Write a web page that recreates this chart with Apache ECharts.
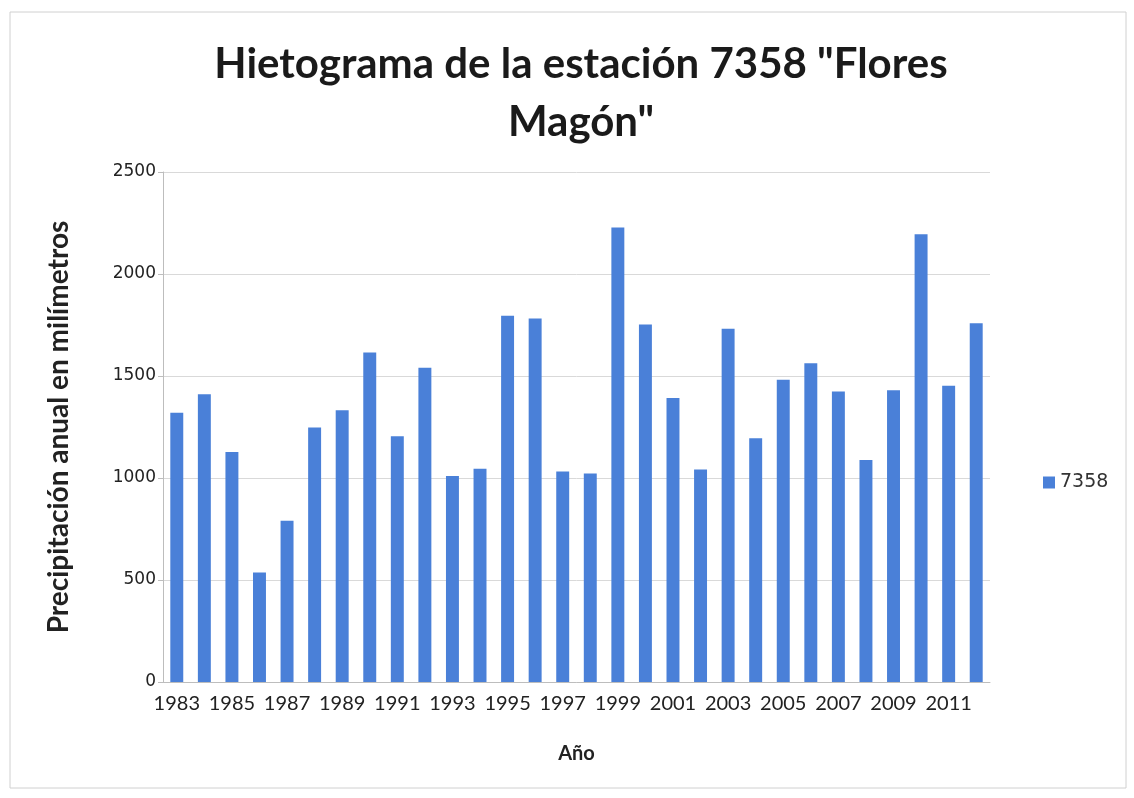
<!DOCTYPE html>
<html><head><meta charset="utf-8">
<script src="https://cdn.jsdelivr.net/npm/echarts@6/dist/echarts.min.js"></script>
<style>html,body{margin:0;padding:0;background:#fff}#c{width:1134px;height:798px}</style>
</head><body><div id="c"></div>
<script>
const years = ['1983','1984','1985','1986','1987','1988','1989','1990','1991','1992','1993','1994','1995','1996','1997','1998','1999','2000','2001','2002','2003','2004','2005','2006','2007','2008','2009','2010','2011','2012'];
const precip = [1320,1410,1128,537,790,1248,1332,1615,1205,1540,1010,1045,1795,1782,1032,1022,2228,1752,1392,1042,1732,1195,1482,1562,1424,1088,1430,2195,1452,1758];
const yTicks = [0,500,1000,1500,2000,2500];
const seriesName = '7358';

const chart = echarts.init(document.getElementById('c'));
chart.setOption({
  backgroundColor:'#fff',
  animation:false,
  title:{
    text:'Hietograma de la estación 7358 "Flores\nMagón"',
    left:576, textAlign:'center', top:30,
    textStyle:{fontFamily:'Lato',fontWeight:'bold',fontSize:42,color:'#1a1a1a',lineHeight:58}
  },
  legend:{
    data:[{name:seriesName,icon:'rect'}], orient:'vertical', left:1038, top:468,
    itemWidth:12, itemHeight:12, itemGap:8,
    textStyle:{fontFamily:'DejaVu Sans',fontSize:19,color:'#333'}
  },
  grid:{left:163,right:144,top:172,bottom:116,containLabel:false},
  xAxis:{
    type:'category', data:years,
    name:'Año', nameLocation:'middle', nameGap:62,
    nameTextStyle:{fontFamily:'Lato',fontWeight:'bold',fontSize:20,color:'#222'},
    axisLine:{lineStyle:{color:'#bdbdbd'}},
    axisTick:{show:false},
    axisLabel:{interval:1,fontFamily:'Lato',fontSize:20,color:'#222',margin:12}
  },
  yAxis:{
    type:'value', min:yTicks[0], max:yTicks[yTicks.length-1], interval:500,
    name:'Precipitación anual en milímetros', nameLocation:'middle', nameGap:90,
    nameTextStyle:{fontFamily:'Lato',fontWeight:'bold',fontSize:28,color:'#222'},
    axisLine:{show:true,lineStyle:{color:'#bdbdbd'}},
    axisTick:{show:true,inside:false,length:5,lineStyle:{color:'#bdbdbd'}},
    splitLine:{lineStyle:{color:'#d9d9d9'}},
    axisLabel:{fontFamily:'DejaVu Sans',fontSize:17,color:'#222',margin:7,formatter:v=>String(v)}
  },
  series:[{
    name:seriesName, type:'bar', data:precip, barWidth:'47%',
    itemStyle:{color:'#4a80d8'}
  }],
  graphic:[{type:'rect',shape:{x:10,y:12,width:1116,height:776},style:{fill:'none',stroke:'#d0d0d0',lineWidth:1},silent:true}]
});
</script></body></html>
